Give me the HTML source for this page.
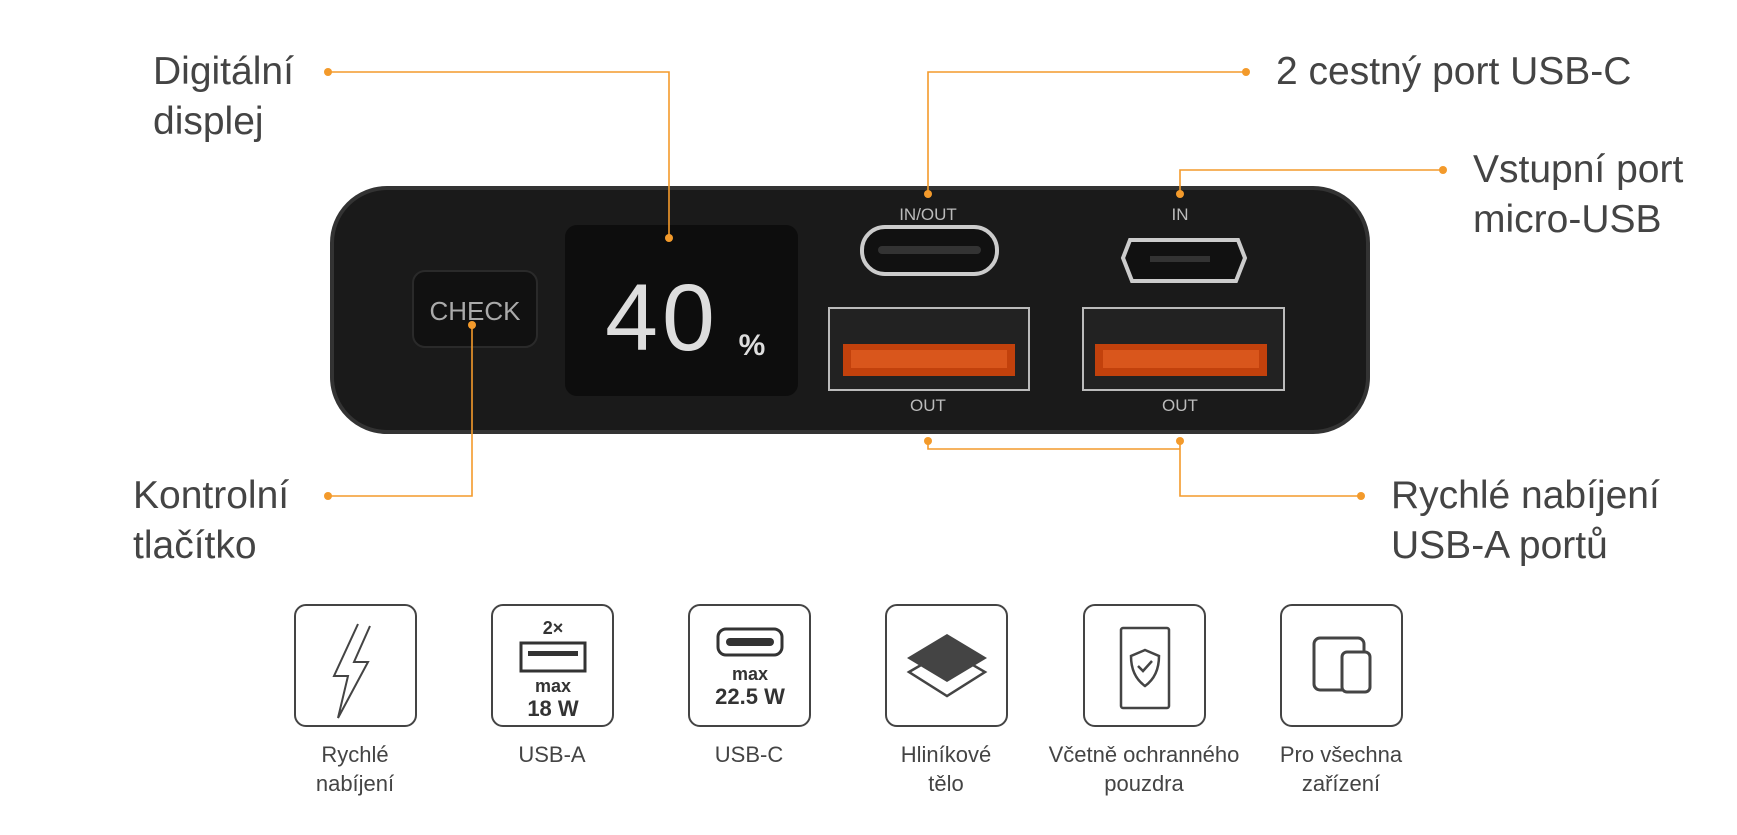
<!DOCTYPE html>
<html><head><meta charset="utf-8"><style>
body{margin:0;width:1737px;height:835px;background:#fff;position:relative;overflow:hidden;font-family:"Liberation Sans",sans-serif;color:#444}
.t{position:absolute;font-size:39px;line-height:50px;white-space:nowrap}
.box{position:absolute;top:604px;width:123px;height:123px;border:2.5px solid #444;border-radius:12px;box-sizing:border-box}
.lab{position:absolute;top:740px;width:200px;text-align:center;font-size:22px;line-height:29px}
</style></head><body>
<svg width="1737" height="835" style="position:absolute;left:0;top:0">
<rect x="332" y="188" width="1036" height="244" rx="55" fill="#1a1a1a" stroke="#333" stroke-width="4"/>
<rect x="565" y="225" width="233" height="171" rx="12" fill="#0d0d0d"/>
<rect x="413" y="271" width="124" height="76" rx="12" fill="#111" stroke="#2a2a2a" stroke-width="2"/>
<text x="475" y="320" font-size="26" fill="#aaa" text-anchor="middle" font-family="Liberation Sans">CHECK</text>
<text x="662" y="350" font-size="95" fill="#ddd" text-anchor="middle" font-family="Liberation Sans" letter-spacing="4">40</text>
<text x="752" y="355" font-size="30" fill="#ddd" text-anchor="middle" font-weight="bold" font-family="Liberation Sans">%</text>
<text x="928" y="220" font-size="17" fill="#bbb" text-anchor="middle" font-family="Liberation Sans">IN/OUT</text>
<text x="1180" y="220" font-size="17" fill="#bbb" text-anchor="middle" font-family="Liberation Sans">IN</text>
<text x="928" y="411" font-size="17" fill="#bbb" text-anchor="middle" font-family="Liberation Sans">OUT</text>
<text x="1180" y="411" font-size="17" fill="#bbb" text-anchor="middle" font-family="Liberation Sans">OUT</text>
<rect x="862" y="227" width="135" height="47" rx="23" fill="#111" stroke="#ccc" stroke-width="4"/>
<rect x="878" y="246" width="103" height="8" rx="4" fill="#333"/>
<path d="M1130,240 H1238 L1245,258 L1236,281 H1132 L1123,258 Z" fill="#111" stroke="#ccc" stroke-width="4"/>
<rect x="1150" y="256" width="60" height="6" fill="#333"/>
<rect x="829" y="308" width="200" height="82" fill="#222" stroke="#bbb" stroke-width="2"/>
<rect x="843" y="344" width="172" height="32" fill="#c2410c"/><rect x="851" y="350" width="156" height="18" fill="#d9561c"/>
<rect x="1083" y="308" width="201" height="82" fill="#222" stroke="#bbb" stroke-width="2"/>
<rect x="1095" y="344" width="172" height="32" fill="#c2410c"/><rect x="1103" y="350" width="156" height="18" fill="#d9561c"/>
</svg>
<svg width="1737" height="835" style="position:absolute;left:0;top:0">
<g stroke="#f39a2b" stroke-width="1.6" fill="none">
<polyline points="328,72 669,72 669,238"/>
<polyline points="928,194 928,72 1246,72"/>
<polyline points="1180,194 1180,170 1443,170"/>
<polyline points="472,325 472,496 328,496"/>
<polyline points="928,441 928,449 1180,449"/>
<polyline points="1180,441 1180,496 1361,496"/>
</g>
<g fill="#f39a2b">
<circle cx="328" cy="72" r="4"/><circle cx="669" cy="238" r="4"/><circle cx="928" cy="194" r="4"/><circle cx="1246" cy="72" r="4"/>
<circle cx="1180" cy="194" r="4"/><circle cx="1443" cy="170" r="4"/><circle cx="472" cy="325" r="4"/><circle cx="328" cy="496" r="4"/>
<circle cx="928" cy="441" r="4"/><circle cx="1180" cy="441" r="4"/><circle cx="1361" cy="496" r="4"/>
</g>
</svg>
<div class="t" style="left:153px;top:47px">Digitální<br>displej</div>
<div class="t" style="left:1276px;top:47px">2 cestný port USB-C</div>
<div class="t" style="left:1473px;top:145px">Vstupní port<br>micro-USB</div>
<div class="t" style="left:133px;top:471px">Kontrolní<br>tlačítko</div>
<div class="t" style="left:1391px;top:471px">Rychlé nabíjení<br>USB-A portů</div>

<div class="box" style="left:294px"><svg width="120" height="120"><path d="M62,18 L38,70 L52,70 L42,112 L72,56 L58,56 L74,20" fill="none" stroke="#444" stroke-width="2"/></svg></div>
<div class="box" style="left:491px"><svg width="120" height="120"><text x="60" y="28" font-size="18" font-weight="bold" text-anchor="middle" fill="#333" font-family="Liberation Sans">2×</text><rect x="28" y="37" width="64" height="28" fill="none" stroke="#333" stroke-width="3"/><rect x="35" y="45" width="50" height="5" fill="#333"/><text x="60" y="86" font-size="18" font-weight="bold" text-anchor="middle" fill="#333" font-family="Liberation Sans">max</text><text x="60" y="110" font-size="22" font-weight="bold" text-anchor="middle" fill="#333" font-family="Liberation Sans">18 W</text></svg></div>
<div class="box" style="left:688px"><svg width="120" height="120"><rect x="28" y="23" width="64" height="26" rx="8" fill="none" stroke="#333" stroke-width="3"/><rect x="36" y="32" width="48" height="8" rx="4" fill="#333"/><text x="60" y="74" font-size="18" font-weight="bold" text-anchor="middle" fill="#333" font-family="Liberation Sans">max</text><text x="60" y="98" font-size="22" font-weight="bold" text-anchor="middle" fill="#333" font-family="Liberation Sans">22.5 W</text></svg></div>
<div class="box" style="left:885px"><svg width="120" height="120"><path d="M22,66 L60,44 L98,66 L60,90 Z" fill="none" stroke="#444" stroke-width="2.5"/><path d="M20,52 L60,28 L100,52 L60,76 Z" fill="#444"/></svg></div>
<div class="box" style="left:1083px"><svg width="120" height="120"><rect x="36" y="22" width="48" height="80" rx="2" fill="none" stroke="#444" stroke-width="2.5"/><path d="M60,44 L74,50 Q74,70 60,80 Q46,70 46,50 Z" fill="#fff" stroke="#444" stroke-width="2.5"/><path d="M53,60 L58,65 L67,55" fill="none" stroke="#444" stroke-width="2.5"/></svg></div>
<div class="box" style="left:1280px"><svg width="120" height="120"><rect x="32" y="32" width="50" height="52" rx="6" fill="none" stroke="#444" stroke-width="3"/><rect x="60" y="46" width="28" height="40" rx="5" fill="#fff" stroke="#444" stroke-width="3"/></svg></div>

<div class="lab" style="left:255px">Rychlé<br>nabíjení</div>
<div class="lab" style="left:452px">USB-A</div>
<div class="lab" style="left:649px">USB-C</div>
<div class="lab" style="left:846px">Hliníkové<br>tělo</div>
<div class="lab" style="left:1044px">Včetně ochranného<br>pouzdra</div>
<div class="lab" style="left:1241px">Pro všechna<br>zařízení</div>
</body></html>
